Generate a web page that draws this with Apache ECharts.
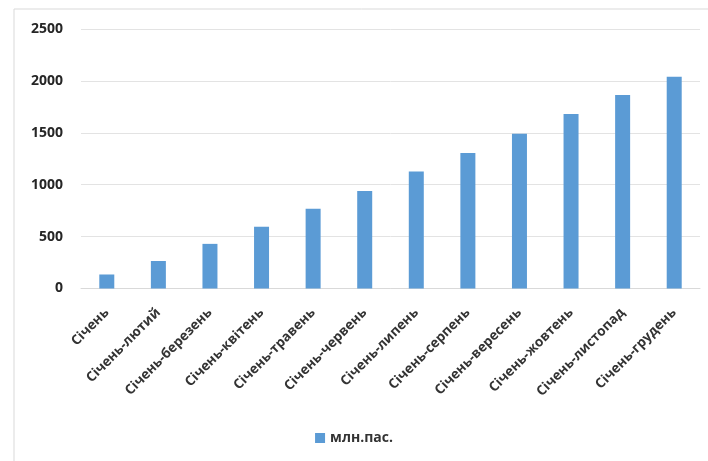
<!DOCTYPE html>
<html>
<head>
<meta charset="utf-8">
<script src="https://cdn.jsdelivr.net/npm/echarts@6/dist/echarts.min.js"></script>
<style>
  html, body { margin: 0; padding: 0; background: #ffffff; }
  #chart { width: 708px; height: 461px; }
</style>
</head>
<body>
<div id="chart"></div>
<script>
// Cumulative passenger traffic, million passengers, January through each month
const categories = [
  'Січень', 'Січень-лютий', 'Січень-березень', 'Січень-квітень',
  'Січень-травень', 'Січень-червень', 'Січень-липень', 'Січень-серпень',
  'Січень-вересень', 'Січень-жовтень', 'Січень-листопад', 'Січень-грудень'
];
const passengers = [135, 265, 430, 595, 768, 940, 1128, 1305, 1490, 1680, 1865, 2040];
const seriesName = 'млн.пас.';
const yTicks = { min: 0, max: 2500, interval: 500 };

const chart = echarts.init(document.getElementById('chart'), null, { renderer: 'canvas' });

chart.setOption({
  backgroundColor: '#ffffff',
  animation: false,
  textStyle: { fontFamily: 'Open Sans' },
  graphic: [{
    type: 'rect',
    shape: { x: 14, y: 9, width: 700, height: 470 },
    style: { fill: 'none', stroke: '#d9d9d9', lineWidth: 1 },
    silent: true
  }],
  grid: { left: 81, right: 8, top: 29, bottom: 172.5, containLabel: false },
  legend: {
    data: [seriesName],
    bottom: 11,
    left: 'center',
    icon: 'rect',
    itemWidth: 10,
    itemHeight: 10,
    itemGap: 6,
    textStyle: { color: '#333333', fontSize: 14, fontWeight: 'bold', fontFamily: 'Open Sans' }
  },
  xAxis: {
    type: 'category',
    data: categories,
    axisLine: { show: true, lineStyle: { color: '#d9d9d9', width: 1 } },
    axisTick: { show: false },
    axisLabel: {
      rotate: 45,
      interval: 0,
      margin: 22,
      color: '#333333',
      fontSize: 13.5,
      fontWeight: 'bold',
      fontFamily: 'Open Sans'
    }
  },
  yAxis: {
    type: 'value',
    min: yTicks.min,
    max: yTicks.max,
    interval: yTicks.interval,
    axisLine: { show: false },
    axisTick: { show: false },
    axisLabel: {
      margin: 18,
      color: '#262626',
      fontSize: 14,
      fontWeight: 'bold',
      fontFamily: 'Open Sans',
      formatter: (v) => String(v)
    },
    splitLine: { lineStyle: { color: '#e3e3e3', width: 1 } }
  },
  series: [{
    name: seriesName,
    type: 'bar',
    data: passengers,
    barWidth: 15,
    itemStyle: { color: '#5b9bd5' }
  }]
});
</script>
</body>
</html>
